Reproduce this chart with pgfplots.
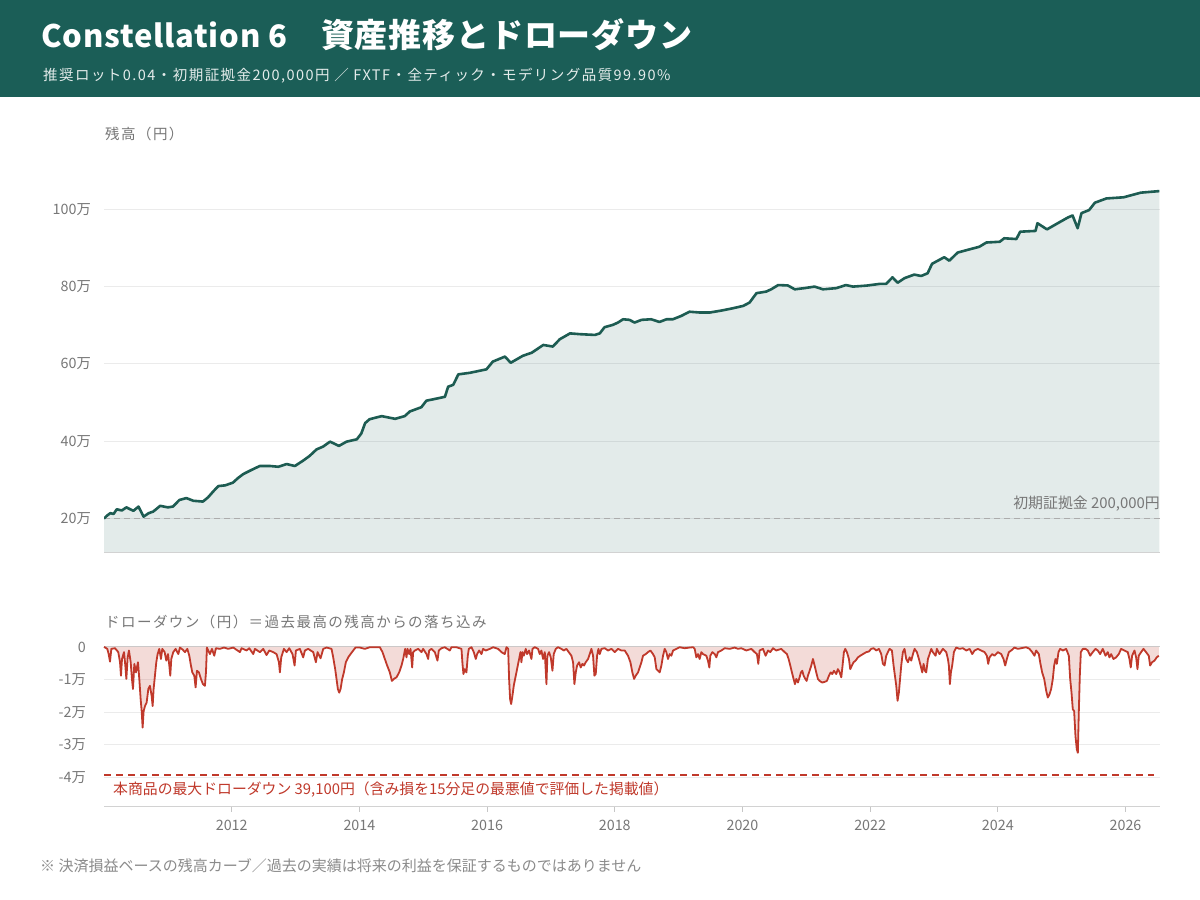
\documentclass[border=0pt]{standalone}
\usepackage{fontspec}
\setmainfont{Noto Sans CJK JP}
\usepackage{pgfplots}
\usepackage{pgfplotstable}
\pgfplotsset{compat=1.18}
\definecolor{hdr}{HTML}{1B5E57}
\definecolor{eqline}{HTML}{1D5C52}
\definecolor{ddred}{HTML}{C0392B}
\definecolor{txtgray}{HTML}{777777}
\definecolor{gridc}{HTML}{EBEBEB}
\newcommand{\fs}[1]{\fontsize{#1bp}{#1bp}\selectfont}

\pgfplotstableread{
t v
2010.00 200000
2010.05 208000
2010.10 214000
2010.15 212000
2010.20 224000
2010.28 221000
2010.35 229000
2010.46 220000
2010.54 231000
2010.62 205000
2010.70 214000
2010.77 218000
2010.88 233000
2011.00 229000
2011.08 231000
2011.18 248000
2011.29 253000
2011.40 246000
2011.55 244000
2011.63 255000
2011.71 270000
2011.79 284000
2011.90 286000
2012.02 293000
2012.10 305000
2012.18 315000
2012.30 325000
2012.44 336000
2012.60 336000
2012.73 334000
2012.86 341000
2012.99 336000
2013.12 350000
2013.22 362000
2013.33 379000
2013.43 386000
2013.54 399000
2013.68 388000
2013.80 399000
2013.96 405000
2014.03 420000
2014.09 447000
2014.16 457000
2014.35 465000
2014.56 458000
2014.71 465000
2014.79 477000
2014.97 488000
2015.05 505000
2015.20 510000
2015.34 515000
2015.39 541000
2015.47 546000
2015.55 573000
2015.73 577000
2015.99 586000
2016.09 606000
2016.28 619000
2016.37 603000
2016.56 621000
2016.70 629000
2016.88 649000
2017.03 645000
2017.14 664000
2017.30 679000
2017.45 677000
2017.69 675000
2017.765 679000
2017.84 695000
2017.97 701000
2018.05 707000
2018.13 715500
2018.23 714000
2018.31 707000
2018.42 714000
2018.57 715500
2018.70 708500
2018.81 715500
2018.91 715500
2019.04 724000
2019.17 735000
2019.33 733000
2019.49 733000
2019.67 738000
2019.85 744000
2020.01 750000
2020.11 758500
2020.22 783000
2020.37 787000
2020.45 793000
2020.56 804000
2020.71 803000
2020.82 793000
2020.97 796000
2021.13 800000
2021.26 793000
2021.47 796000
2021.62 804000
2021.73 800000
2021.94 802500
2022.15 807000
2022.25 807000
2022.35 824000
2022.43 810000
2022.54 822000
2022.69 831000
2022.80 827500
2022.90 834500
2022.97 859000
2023.16 876000
2023.24 867000
2023.37 888000
2023.56 896500
2023.71 903000
2023.82 914000
2024.03 916000
2024.10 925000
2024.29 923000
2024.35 942000
2024.59 944000
2024.62 964000
2024.77 948000
2024.95 965000
2025.10 979000
2025.17 984000
2025.25 951000
2025.31 990000
2025.43 998000
2025.52 1017000
2025.70 1028000
2025.97 1031000
2026.24 1043000
2026.53 1047000
}\equity

\pgfplotstableread{
t d
2010.000 0
2010.052 -600
2010.073 -2200
2010.094 -4500
2010.115 -600
2010.172 -400
2010.224 -1600
2010.251 -4700
2010.266 -8800
2010.282 -3700
2010.313 -1600
2010.334 -5700
2010.350 -9800
2010.371 -3200
2010.391 -1100
2010.418 -4700
2010.438 -9800
2010.454 -12900
2010.475 -5200
2010.501 -7800
2010.532 -4700
2010.553 -9800
2010.574 -16000
2010.590 -19600
2010.605 -24700
2010.621 -19600
2010.642 -18100
2010.668 -17000
2010.694 -12900
2010.720 -11900
2010.746 -15000
2010.762 -18100
2010.777 -12900
2010.798 -8800
2010.819 -4700
2010.840 -2200
2010.866 -600
2010.892 -3700
2010.913 -600
2010.950 -1600
2010.976 -4200
2011.002 -2200
2011.023 -5700
2011.038 -8800
2011.054 -3700
2011.085 -1600
2011.122 -600
2011.164 -2200
2011.190 -200
2011.231 -800
2011.268 -1600
2011.305 -600
2011.336 -2700
2011.362 -5700
2011.383 -7800
2011.414 -8800
2011.435 -12400
2011.456 -7300
2011.487 -7800
2011.518 -9800
2011.550 -11400
2011.581 -11900
2011.597 -7800
2011.612 -200
2011.659 -2200
2011.691 -600
2011.727 -2700
2011.753 -400
2011.816 -600
2011.879 -200
2011.946 -600
2012.025 -200
2012.129 -1600
2012.155 -400
2012.233 -1100
2012.275 -400
2012.338 -2200
2012.364 -600
2012.442 -1600
2012.494 -600
2012.546 -2500
2012.588 -1100
2012.651 -1600
2012.703 -2200
2012.740 -4700
2012.755 -7800
2012.776 -3200
2012.818 -600
2012.860 -1600
2012.901 -400
2012.953 -2200
2012.985 -5700
2013.006 -1100
2013.068 -600
2013.120 -3200
2013.147 -1100
2013.199 -600
2013.277 -1600
2013.319 -4700
2013.345 -1600
2013.392 -3500
2013.434 -600
2013.486 -200
2013.564 -600
2013.590 -3200
2013.621 -6800
2013.642 -9800
2013.663 -12900
2013.684 -14000
2013.705 -12900
2013.731 -9800
2013.757 -7800
2013.788 -4700
2013.825 -3200
2013.861 -2200
2013.903 -1100
2013.940 -200
2014.007 -200
2014.086 -600
2014.164 -100
2014.321 -100
2014.362 -1600
2014.399 -3700
2014.435 -5700
2014.477 -7800
2014.509 -10400
2014.540 -9800
2014.582 -9300
2014.623 -7800
2014.660 -5700
2014.686 -3700
2014.717 -600
2014.738 -3200
2014.754 -600
2014.780 -2200
2014.801 -600
2014.827 -6300
2014.842 -1600
2014.869 -1100
2014.921 -600
2014.973 -1600
2014.999 -600
2015.051 -2200
2015.077 -3700
2015.093 -1100
2015.129 -600
2015.182 -1600
2015.223 -4200
2015.244 -1100
2015.286 -400
2015.338 -100
2015.416 -1100
2015.443 -100
2015.521 -100
2015.599 -600
2015.615 -5200
2015.630 -8300
2015.651 -6800
2015.677 -7800
2015.698 -2700
2015.714 -600
2015.756 -100
2015.792 -1600
2015.823 -3700
2015.844 -2200
2015.876 -1100
2015.912 -2200
2015.938 -600
2015.980 -1100
2016.043 -600
2016.095 -100
2016.173 -600
2016.225 -1600
2016.277 -2200
2016.304 -100
2016.330 -600
2016.345 -9800
2016.361 -16000
2016.377 -17500
2016.397 -15000
2016.418 -11900
2016.439 -9800
2016.460 -7800
2016.481 -5700
2016.502 -3700
2016.523 -1600
2016.538 -4700
2016.554 -1600
2016.575 -2700
2016.606 -600
2016.627 -2200
2016.658 -1100
2016.695 -3700
2016.711 -600
2016.747 -100
2016.799 -600
2016.825 -2200
2016.851 -1100
2016.877 -3700
2016.904 -1600
2016.930 -11400
2016.945 -2700
2016.971 -1600
2016.998 -3200
2017.024 -7300
2017.044 -2200
2017.076 -600
2017.112 -100
2017.165 -600
2017.201 -1100
2017.243 -600
2017.279 -1600
2017.321 -2700
2017.347 -4700
2017.368 -11400
2017.389 -7800
2017.410 -5700
2017.441 -4700
2017.467 -6300
2017.493 -5200
2017.519 -5700
2017.545 -4700
2017.582 -3700
2017.608 -2200
2017.634 -600
2017.660 -2700
2017.681 -8800
2017.702 -8300
2017.723 -2700
2017.744 -600
2017.765 -2200
2017.791 -600
2017.843 -400
2017.895 -1100
2017.947 -600
2017.999 -1600
2018.052 -600
2018.104 -1100
2018.156 -1100
2018.208 -2700
2018.245 -4700
2018.276 -7800
2018.302 -9800
2018.328 -8800
2018.365 -7800
2018.417 -4700
2018.443 -2700
2018.485 -2200
2018.521 -1600
2018.558 -1100
2018.599 -2200
2018.626 -3200
2018.652 -6800
2018.678 -7300
2018.704 -7800
2018.730 -5700
2018.756 -2700
2018.782 -600
2018.808 -1600
2018.834 -3700
2018.860 -2200
2018.886 -2700
2018.913 -1100
2018.965 -600
2019.017 -100
2019.095 -400
2019.173 -200
2019.226 -100
2019.252 -600
2019.278 -3200
2019.304 -2200
2019.330 -3700
2019.356 -1600
2019.382 -2200
2019.434 -2700
2019.460 -4200
2019.481 -6300
2019.497 -2700
2019.528 -1600
2019.565 -2200
2019.591 -3200
2019.617 -1600
2019.669 -1100
2019.721 -400
2019.800 -600
2019.878 -200
2019.930 -600
2019.982 -400
2020.061 -1100
2020.139 -600
2020.191 -1600
2020.227 -2200
2020.248 -5200
2020.269 -1100
2020.321 -600
2020.363 -2700
2020.400 -1100
2020.436 -1600
2020.478 -400
2020.530 -1100
2020.608 -600
2020.661 -1600
2020.697 -2200
2020.723 -3700
2020.749 -5700
2020.775 -7800
2020.801 -9800
2020.822 -11400
2020.843 -9800
2020.869 -10900
2020.895 -9300
2020.916 -7800
2020.937 -7300
2020.958 -8800
2020.984 -9800
2021.005 -10400
2021.026 -8800
2021.052 -7300
2021.078 -5700
2021.104 -3700
2021.130 -5700
2021.156 -7800
2021.182 -9800
2021.208 -10400
2021.250 -10900
2021.287 -10700
2021.323 -10400
2021.355 -8800
2021.381 -7800
2021.407 -8300
2021.433 -7300
2021.469 -8300
2021.495 -6800
2021.522 -7800
2021.548 -9300
2021.568 -5700
2021.589 -1600
2021.610 -600
2021.636 -1600
2021.668 -3700
2021.688 -6800
2021.715 -5700
2021.741 -4700
2021.772 -4200
2021.809 -3200
2021.845 -2700
2021.887 -2200
2021.939 -1600
2021.981 -1400
2022.017 -600
2022.054 -400
2022.096 -1100
2022.137 -600
2022.174 -2200
2022.200 -5200
2022.226 -5700
2022.252 -2700
2022.278 -1600
2022.304 -600
2022.341 -1100
2022.367 -5700
2022.388 -8800
2022.409 -11900
2022.429 -16500
2022.450 -14000
2022.487 -5700
2022.513 -1600
2022.539 -600
2022.565 -3700
2022.592 -4700
2022.618 -3200
2022.644 -4200
2022.670 -2200
2022.696 -600
2022.732 -1600
2022.764 -3700
2022.790 -5700
2022.816 -7800
2022.837 -5200
2022.858 -7300
2022.878 -7800
2022.905 -3700
2022.931 -2200
2022.957 -600
2022.983 -1600
2023.025 -2700
2023.045 -600
2023.087 -2200
2023.139 -600
2023.192 -1600
2023.218 -3700
2023.233 -5700
2023.249 -11400
2023.265 -7800
2023.285 -5700
2023.312 -1600
2023.348 -200
2023.400 -600
2023.452 -400
2023.505 -1100
2023.557 -600
2023.599 -2200
2023.635 -1100
2023.687 -600
2023.739 -1100
2023.792 -1600
2023.828 -2700
2023.849 -5200
2023.870 -3200
2023.912 -2200
2023.948 -2700
2024.000 -1600
2024.053 -2200
2024.089 -3700
2024.115 -5700
2024.141 -3700
2024.173 -1600
2024.209 -1100
2024.261 -200
2024.313 -600
2024.366 -400
2024.444 -100
2024.496 -600
2024.538 -1600
2024.574 -2700
2024.600 -1100
2024.642 -2200
2024.663 -4700
2024.694 -7800
2024.726 -9800
2024.757 -13400
2024.783 -15500
2024.809 -14500
2024.835 -12900
2024.861 -9800
2024.882 -5700
2024.903 -3700
2024.924 -5200
2024.950 -1600
2024.976 -600
2025.018 -1100
2025.070 -600
2025.112 -2700
2025.133 -9800
2025.154 -14000
2025.174 -19100
2025.195 -19600
2025.216 -27300
2025.237 -31400
2025.253 -32400
2025.268 -20100
2025.284 -8800
2025.300 -1600
2025.331 -600
2025.373 -600
2025.409 -1100
2025.446 -2700
2025.487 -1600
2025.529 -600
2025.566 -1100
2025.602 -2200
2025.644 -600
2025.686 -2700
2025.722 -1600
2025.748 -3200
2025.774 -2200
2025.811 -3700
2025.853 -3200
2025.894 -2200
2025.931 -600
2025.983 -1100
2026.035 -1600
2026.061 -3700
2026.082 -6300
2026.103 -2700
2026.140 -1100
2026.166 -3200
2026.187 -6800
2026.207 -2700
2026.244 -1600
2026.281 -600
2026.322 -1600
2026.364 -2700
2026.385 -5700
2026.416 -4700
2026.453 -4200
2026.489 -3200
2026.521 -2700
}\ddtab

\begin{document}
\begin{tikzpicture}
\begin{scope}[x=1bp,y=1bp]
\useasboundingbox (0,0) rectangle (1200,900);
\fill[white] (0,0) rectangle (1200,900);
\fill[hdr] (0,803) rectangle (1200,900);
\node[anchor=base west, inner sep=0pt, text=white] at (41,852.5) {\bfseries\addfontfeature{LetterSpace=2.5}{\fs{31}Constellation 6}{\fs{33}　資産推移とドローダウン}};
\node[anchor=base west, inner sep=0pt, text=white!88!hdr] at (43,819.5) {\fs{14.5}\addfontfeature{LetterSpace=10}推奨ロット0.04・初期証拠金200,000円 ／ FXTF・全ティック・モデリング品質99.90\%};
\node[anchor=base west, inner sep=0pt, text=txtgray] at (105,760) {\fs{14.5}\addfontfeature{LetterSpace=10}残高（円）};
\node[anchor=base west, inner sep=0pt, text=txtgray] at (105,272.5) {\fs{14.5}\addfontfeature{LetterSpace=10}ドローダウン（円）＝過去最高の残高からの落ち込み};
\end{scope}

\begin{axis}[
  at={(104bp,347.7bp)}, anchor=south west,
  scale only axis, width=1056bp, height=401bp,
  xmin=2010, xmax=2026.54, ymin=112800, ymax=1150000,
  scaled y ticks=false, scaled x ticks=false,
  axis line style={draw=none},
  xtick=\empty,
  ytick={200000,400000,600000,800000,1000000},
  yticklabels={20万,40万,60万,80万,100万},
  ytick style={draw=none},
  yticklabel style={font=\fs{14.3}, text=txtgray, anchor=east, inner sep=0pt, xshift=-13bp},
  ymajorgrids, grid style={gridc, line width=1bp},
]
\addplot[draw=none, fill=hdr, fill opacity=0.12] table[x=t,y=v] {\equity} \closedcycle;
\addplot[gray!65, line width=1bp, dash pattern=on 6bp off 4bp] coordinates {(2010,200000) (2026.54,200000)};
\addplot[eqline, line width=2.6bp, line join=round] table[x=t,y=v] {\equity};
\node[anchor=base east, inner sep=0pt, text=txtgray, font=\fs{14.9}] at (axis cs:2026.54,200000) [yshift=10bp] {初期証拠金 200,000円};
\end{axis}

\begin{axis}[
  at={(104bp,93.3bp)}, anchor=south west,
  scale only axis, width=1056bp, height=162.4bp,
  xmin=2010, xmax=2026.54, ymin=-48900, ymax=800,
  scaled y ticks=false, scaled x ticks=false,
  clip=false,
  axis line style={draw=none},
  xtick={2012,2014,2016,2018,2020,2022,2024,2026},
  xticklabels={2012,2014,2016,2018,2020,2022,2024,2026},
  xtick pos=lower, tick align=outside, major tick length=5bp,
  xtick style={gray!45, line width=1bp},
  xticklabel style={font=\fs{14.3}, text=txtgray, inner sep=0pt, yshift=-8bp},
  ytick={0,-10000,-20000,-30000,-40000},
  yticklabels={0,-1万,-2万,-3万,-4万},
  ytick style={draw=none},
  yticklabel style={font=\fs{14.3}, text=txtgray, anchor=east, inner sep=0pt, xshift=-13bp},
  ymajorgrids, grid style={gridc, line width=1bp},
]
\addplot[gray!40, line width=1bp] coordinates {(2010,0) (2026.54,0)};
\addplot[draw=none, fill=ddred, fill opacity=0.18] table[x=t,y=d] {\ddtab} \closedcycle;
\addplot[ddred, line width=1.8bp, line join=round] table[x=t,y=d] {\ddtab};
\addplot[ddred, line width=2bp, dash pattern=on 7bp off 5bp] coordinates {(2010,-39100) (2026.45,-39100)};
\end{axis}

\begin{scope}[x=1bp,y=1bp]
\draw[gray!35, line width=1bp] (104,347.7) -- (1160,347.7);
\draw[gray!35, line width=1bp] (104,93.3) -- (1160,93.3);
\node[anchor=base west, inner sep=0pt, text=ddred] at (113,105.5) {\fs{14.85}本商品の最大ドローダウン 39,100円（含み損を15分足の最悪値で評価した掲載値）};
\node[anchor=base west, inner sep=0pt, text=txtgray!85!white] at (40,28.5) {\fs{15}※ 決済損益ベースの残高カーブ／過去の実績は将来の利益を保証するものではありません};
\end{scope}
\end{tikzpicture}
\end{document}
